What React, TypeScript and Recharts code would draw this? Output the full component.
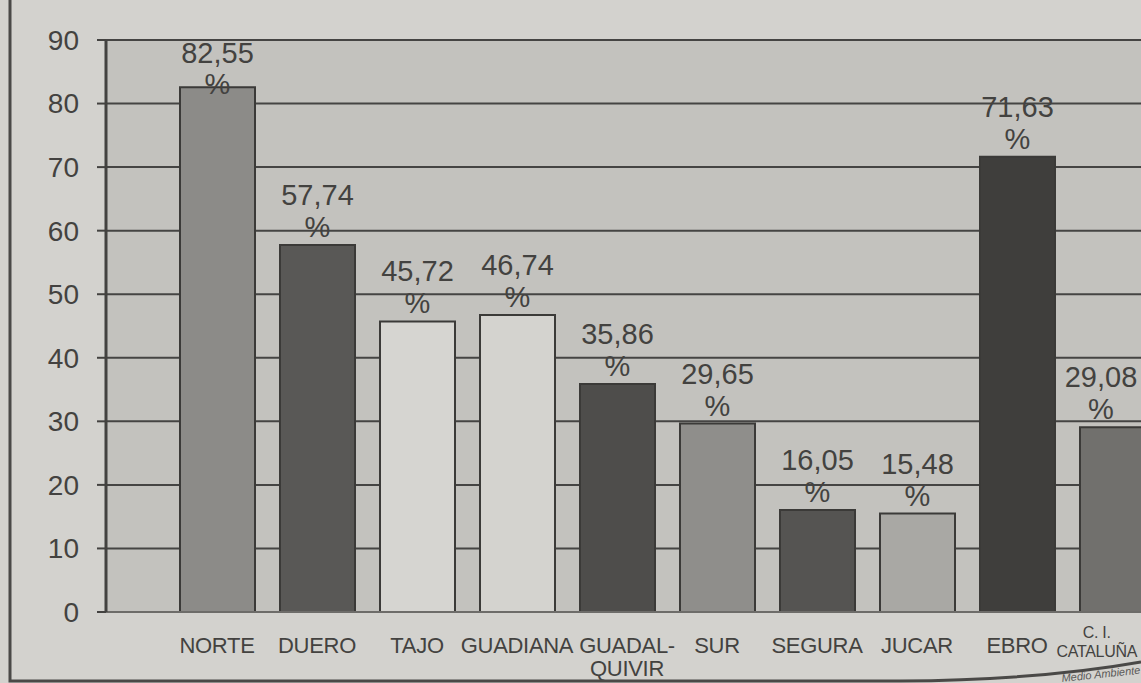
import { Bar, BarChart, CartesianGrid, Cell, LabelList, XAxis, YAxis } from "recharts";

const cuencas = ["NORTE", "DUERO", "TAJO", "GUADIANA", "GUADAL-\nQUIVIR", "SUR", "SEGURA", "JUCAR", "EBRO", "C. I.\nCATALUÑA"];
const porcentajes = [82.55, 57.74, 45.72, 46.74, 35.86, 29.65, 16.05, 15.48, 71.63, 29.08];
const yTicks = [0, 10, 20, 30, 40, 50, 60, 70, 80, 90];

const barColors = ["#8c8b88", "#595856", "#d6d5d1", "#d4d3cf", "#4e4d4b", "#8f8e8b", "#555452", "#a9a8a4", "#3f3e3c", "#71706d"];

const data = cuencas.map((name, i) => ({ name, value: porcentajes[i] }));

const ink = "#434240";
const font = "'Liberation Sans', Arial, sans-serif";
const VIEW_W = 1141;

function CategoryTick({ x, y, payload, index }: any) {
  const lines = String(payload.value).split("\n");
  const last = index === cuencas.length - 1;
  // the last label is smaller and raised, as on the curled page
  const fs = last ? 16 : 22;
  const longest = Math.max(...lines.map((l) => l.length));
  const half = (longest * fs * 0.66) / 2;
  let cx = Math.min(x, VIEW_W - half - 2);
  if (lines[0].endsWith("-")) cx += 10;
  return (
    <text x={cx} y={y} textAnchor="middle" fill={ink} fontSize={fs} fontFamily={font} letterSpacing={-0.3}>
      {lines.map((l, i) => (
        <tspan key={i} x={cx} dy={i === 0 ? (last ? 18 : 33) : last ? 19 : 23}>
          {l}
        </tspan>
      ))}
    </text>
  );
}

function ValueLabel({ x, y, width, value }: any) {
  const cx = Math.min(x + width / 2, VIEW_W - 40);
  const txt = Number(value).toFixed(2).replace(".", ",");
  // stay under the 90 line, like the tallest bar's label
  const numY = Math.max(y - 40, 63);
  const pctY = Math.max(y - 8, numY + 31);
  return (
    <g fill={ink} fontSize={29} fontFamily={font} textAnchor="middle">
      <text x={cx} y={numY}>{txt}</text>
      <text x={cx} y={pctY}>%</text>
    </g>
  );
}

export default function App() {
  return (
    <div
      style={{
        position: "absolute",
        left: 0,
        top: 0,
        width: VIEW_W,
        height: 683,
        overflow: "hidden",
        background: "#d3d2ce",
      }}
    >
      <BarChart
        width={1167}
        height={683}
        data={data}
        margin={{ top: 40, right: 0, left: 0, bottom: 0 }}
        barSize={75}
        style={{ position: "absolute", left: 0, top: 0 }}
      >
        <CartesianGrid vertical={false} fill="#c3c2be" stroke="#454443" strokeWidth={2} />
        <XAxis
          dataKey="name"
          interval={0}
          height={71}
          padding={{ left: 61, right: 0 }}
          tickLine={false}
          axisLine={{ stroke: "#6d6c69", strokeWidth: 2 }}
          tick={<CategoryTick />}
        />
        <YAxis
          domain={[0, 90]}
          ticks={yTicks}
          width={106}
          tickSize={9}
          tickMargin={18}
          axisLine={{ stroke: ink, strokeWidth: 3 }}
          tickLine={{ stroke: ink, strokeWidth: 2 }}
          tick={{ fill: ink, fontSize: 28, fontFamily: font }}
        />
        <Bar dataKey="value" stroke="#3b3a38" strokeWidth={2} isAnimationActive={false}>
          {data.map((d, i) => (
            <Cell key={d.name} fill={barColors[i]} />
          ))}
          <LabelList dataKey="value" content={<ValueLabel />} />
        </Bar>
      </BarChart>
      <svg
        width={VIEW_W}
        height={683}
        style={{ position: "absolute", left: 0, top: 0, pointerEvents: "none" }}
      >
        <path d="M10,0 L10,681 L900,681 Q1040,680 1141,662" fill="none" stroke="#4a4947" strokeWidth={3} />
        <text
          x={1062}
          y={682}
          fontSize={11}
          fontStyle="italic"
          fontFamily={font}
          fill="#5a5957"
          transform="rotate(-6 1062 682)"
        >
          Medio Ambiente
        </text>
      </svg>
    </div>
  );
}
